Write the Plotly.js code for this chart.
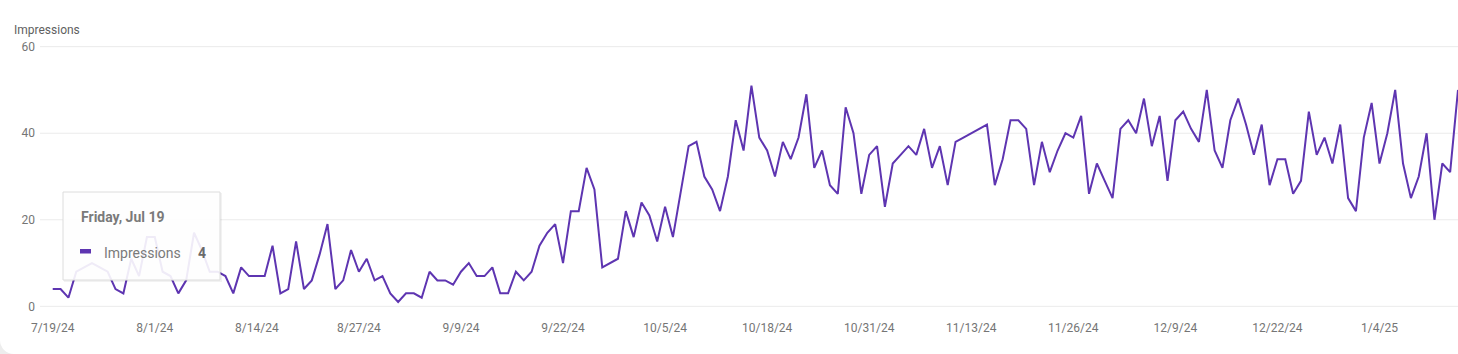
<!DOCTYPE html>
<html>
<head>
<meta charset="utf-8">
<script src="https://cdn.plot.ly/plotly-3.0.1.min.js"></script>
<style>
  html, body { margin: 0; padding: 0; background: #ededed; }
  #chart { width: 1458px; height: 354px; background: #ffffff; border-bottom-left-radius: 14px; overflow: hidden; }
</style>
</head>
<body>
<div id="chart"></div>
<script>
// ---- data ----
const startDate = '2024-07-19';
const impressions = [
  4, 4, 2, 8, 9, 10, 9, 8, 4, 3,
  11, 7, 16, 16, 8, 7, 3, 6, 17, 13,
  8, 8, 7, 3, 9, 7, 7, 7, 14, 3,
  4, 15, 4, 6, 12, 19, 4, 6, 13, 8,
  11, 6, 7, 3, 1, 3, 3, 2, 8, 6,
  6, 5, 8, 10, 7, 7, 9, 3, 3, 8,
  6, 8, 14, 17, 19, 10, 22, 22, 32, 27,
  9, 10, 11, 22, 16, 24, 21, 15, 23, 16,
  27, 37, 38, 30, 27, 22, 30, 43, 36, 51,
  39, 36, 30, 38, 34, 39, 49, 32, 36, 28,
  26, 46, 40, 26, 35, 37, 23, 33, 35, 37,
  35, 41, 32, 37, 28, 38, 39, 40, 41, 42,
  28, 34, 43, 43, 41, 28, 38, 31, 36, 40,
  39, 44, 26, 33, 29, 25, 41, 43, 40, 48,
  37, 44, 29, 43, 45, 41, 38, 50, 36, 32,
  43, 48, 42, 35, 42, 28, 34, 34, 26, 29,
  45, 35, 39, 33, 42, 25, 22, 39, 47, 33,
  40, 50, 33, 25, 30, 40, 20, 33, 31, 50
];
const tickDates = ['2024-07-19','2024-08-01','2024-08-14','2024-08-27','2024-09-09','2024-09-22',
  '2024-10-05','2024-10-18','2024-10-31','2024-11-13','2024-11-26','2024-12-09','2024-12-22','2025-01-04'];
const tickLabels = ['7/19/24','8/1/24','8/14/24','8/27/24','9/9/24','9/22/24',
  '10/5/24','10/18/24','10/31/24','11/13/24','11/26/24','12/9/24','12/22/24','1/4/25'];
const yTicks = [0, 20, 40, 60];
const seriesName = 'Impressions';
const tooltipDate = 'Friday, Jul 19';

// daily dates
const DAY = 86400000;
const t0 = Date.parse(startDate + 'T00:00:00Z');
const dates = impressions.map((_, i) => new Date(t0 + i * DAY).toISOString().slice(0, 10));

// ---- geometry helpers (pixel -> paper) ----
const W = 1458, H = 354;
const L = 40, R = 0, T = 46, B = 47;
const PW = W - L - R, PH = H - T - B;
const px = x => (x - L) / PW;
const py = y => (H - B - y) / PH;

const fmt = ms => new Date(ms).toISOString().replace('T', ' ').slice(0, 19);
const xStart = t0 - 1.62 * DAY;
const xEnd = t0 + 179.0 * DAY;

const purple = '#5e35b1';
const textGray = '#757575';
const gridColor = '#ebebeb';
const FONT = 'Roboto, "Open Sans", sans-serif';

const trace = {
  x: dates,
  y: impressions,
  type: 'scatter',
  mode: 'lines',
  name: seriesName,
  line: { color: purple, width: 2, shape: 'linear' },
  hoverinfo: 'skip'
};

// gridlines for every y tick (drawn as shapes so the edge ones show too)
const gridShapes = yTicks.map(v => ({
  type: 'line', xref: 'paper', yref: 'y', x0: 0, x1: 1, y0: v, y1: v,
  line: { color: gridColor, width: 1 }, layer: 'below'
}));

const layout = {
  width: W, height: H,
  margin: { l: L, r: R, t: T, b: B, pad: 0 },
  paper_bgcolor: 'rgba(0,0,0,0)',
  plot_bgcolor: 'rgba(0,0,0,0)',
  showlegend: false,
  font: { family: FONT, size: 12, color: textGray },
  xaxis: {
    type: 'date',
    range: [fmt(xStart), fmt(xEnd)],
    tickvals: tickDates,
    ticktext: tickLabels,
    showgrid: false,
    zeroline: false,
    showline: false,
    ticks: '',
    ticklabelstandoff: 12,
    tickfont: { family: FONT, size: 12, color: textGray }
  },
  yaxis: {
    range: [-0.15, 60.15],
    tickvals: yTicks,
    ticktext: yTicks.map(String),
    showgrid: false,
    zeroline: false,
    showline: false,
    ticks: '',
    ticklabelstandoff: 4,
    tickfont: { family: FONT, size: 12, color: textGray }
  },
  shapes: gridShapes.concat([
    // tooltip shadow
    { type: 'rect', xref: 'paper', yref: 'paper', x0: px(64), x1: px(222), y0: py(282), y1: py(193),
      fillcolor: 'rgba(0,0,0,0.05)', line: { width: 0 } },
    // tooltip box
    { type: 'rect', xref: 'paper', yref: 'paper', x0: px(63), x1: px(220), y0: py(280), y1: py(192),
      fillcolor: 'rgba(255,255,255,0.9)', line: { color: '#dcdcdc', width: 1 } },
    // legend swatch
    { type: 'rect', xref: 'paper', yref: 'paper', x0: px(80), x1: px(91), y0: py(253.5), y1: py(249),
      fillcolor: purple, line: { width: 0 } }
  ]),
  annotations: [
    { text: seriesName, xref: 'paper', yref: 'paper', x: px(12), y: py(30),
      xanchor: 'left', yanchor: 'middle', showarrow: false,
      font: { family: FONT, size: 12, color: '#5f5f5f' } },
    { text: '<b>' + tooltipDate + '</b>', xref: 'paper', yref: 'paper', x: px(79), y: py(217),
      xanchor: 'left', yanchor: 'middle', showarrow: false,
      font: { family: FONT, size: 14, color: '#7a7a7a' } },
    { text: seriesName, xref: 'paper', yref: 'paper', x: px(102), y: py(253),
      xanchor: 'left', yanchor: 'middle', showarrow: false,
      font: { family: FONT, size: 14, color: '#7a7a7a' } },
    { text: '<b>' + impressions[0] + '</b>', xref: 'paper', yref: 'paper', x: px(196), y: py(253),
      xanchor: 'left', yanchor: 'middle', showarrow: false,
      font: { family: FONT, size: 14, color: '#6a6a6a' } }
  ]
};

Plotly.newPlot('chart', [trace], layout, { displayModeBar: false, staticPlot: true });
</script>
</body>
</html>
